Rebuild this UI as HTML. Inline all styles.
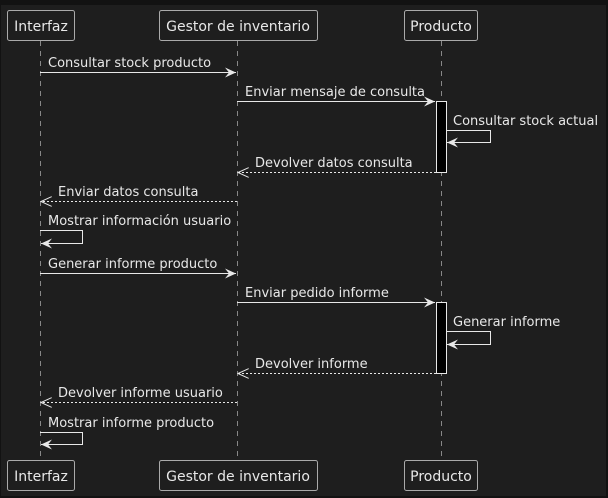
<!DOCTYPE html>
<html><head><style>html,body{margin:0;padding:0;background:#121212}svg{display:block}</style></head>
<body>
<svg width="608" height="498" viewBox="0 0 608 498" xmlns="http://www.w3.org/2000/svg" font-family="DejaVu Sans, sans-serif" font-size="13" fill="#e8e8e8">
<rect x="0" y="0" width="608" height="498" fill="#121212"/>
<rect x="1" y="5" width="605" height="491" fill="#1e1e1e"/>
<defs>
<marker id="a" markerWidth="12" markerHeight="10" refX="11" refY="5" orient="auto" markerUnits="userSpaceOnUse"><path d="M0,0 L11,5 L0,10 L4,5 Z" fill="#e8e8e8"/></marker>
<marker id="o" markerWidth="12" markerHeight="10" refX="11" refY="5" orient="auto" markerUnits="userSpaceOnUse"><path d="M0,0 L11,5 L0,10" fill="none" stroke="#e8e8e8" stroke-width="1"/></marker>
</defs>
<g stroke="#888" stroke-dasharray="5,5" stroke-width="1">
<line x1="40.5" y1="41" x2="40.5" y2="460"/>
<line x1="237.5" y1="41" x2="237.5" y2="460"/>
<line x1="441.5" y1="41" x2="441.5" y2="460"/>
</g>
<g fill="#1e1e1e" stroke="#aaa" stroke-width="1">
<rect x="7.5" y="10.5" width="67" height="30" rx="2"/>
<rect x="159.5" y="10.5" width="158" height="30" rx="2"/>
<rect x="404.5" y="10.5" width="73" height="30" rx="2"/>
<rect x="7.5" y="460.5" width="67" height="30" rx="2"/>
<rect x="159.5" y="460.5" width="158" height="30" rx="2"/>
<rect x="404.5" y="460.5" width="73" height="30" rx="2"/>
</g>
<g font-size="14" text-anchor="middle">
<text x="41" y="31">Interfaz</text><text x="238" y="31">Gestor de inventario</text><text x="441" y="31">Producto</text>
<text x="41" y="481">Interfaz</text><text x="238" y="481">Gestor de inventario</text><text x="441" y="481">Producto</text>
</g>
<g fill="#000" stroke="#e8e8e8" stroke-width="1">
<rect x="436.5" y="101.5" width="10" height="71"/>
<rect x="436.5" y="302.5" width="10" height="71"/>
</g>
<g stroke="#e8e8e8" stroke-width="1" fill="none">
<line x1="40" y1="72.5" x2="236" y2="72.5" marker-end="url(#a)"/>
<line x1="237" y1="101.5" x2="435" y2="101.5" marker-end="url(#a)"/>
<polyline points="446,130.5 490.5,130.5 490.5,142.5 447,142.5" marker-end="url(#a)"/>
<line x1="436" y1="172.5" x2="238" y2="172.5" stroke-dasharray="2,2" marker-end="url(#o)"/>
<line x1="237" y1="201.5" x2="41" y2="201.5" stroke-dasharray="2,2" marker-end="url(#o)"/>
<polyline points="40,230.5 82.5,230.5 82.5,243.5 41,243.5" marker-end="url(#a)"/>
<line x1="40" y1="273.5" x2="236" y2="273.5" marker-end="url(#a)"/>
<line x1="237" y1="302.5" x2="435" y2="302.5" marker-end="url(#a)"/>
<polyline points="446,331.5 490.5,331.5 490.5,344.5 447,344.5" marker-end="url(#a)"/>
<line x1="436" y1="373.5" x2="238" y2="373.5" stroke-dasharray="2,2" marker-end="url(#o)"/>
<line x1="237" y1="402.5" x2="41" y2="402.5" stroke-dasharray="2,2" marker-end="url(#o)"/>
<polyline points="40,432.5 82.5,432.5 82.5,444.5 41,444.5" marker-end="url(#a)"/>
</g>
<text x="48" y="67">Consultar stock producto</text>
<text x="245" y="96">Enviar mensaje de consulta</text>
<text x="453" y="125">Consultar stock actual</text>
<text x="255" y="167">Devolver datos consulta</text>
<text x="58" y="196">Enviar datos consulta</text>
<text x="48" y="225">Mostrar información usuario</text>
<text x="48" y="268">Generar informe producto</text>
<text x="245" y="297">Enviar pedido informe</text>
<text x="453" y="326">Generar informe</text>
<text x="255" y="368">Devolver informe</text>
<text x="58" y="397">Devolver informe usuario</text>
<text x="48" y="427">Mostrar informe producto</text>
</svg>
</body></html>
